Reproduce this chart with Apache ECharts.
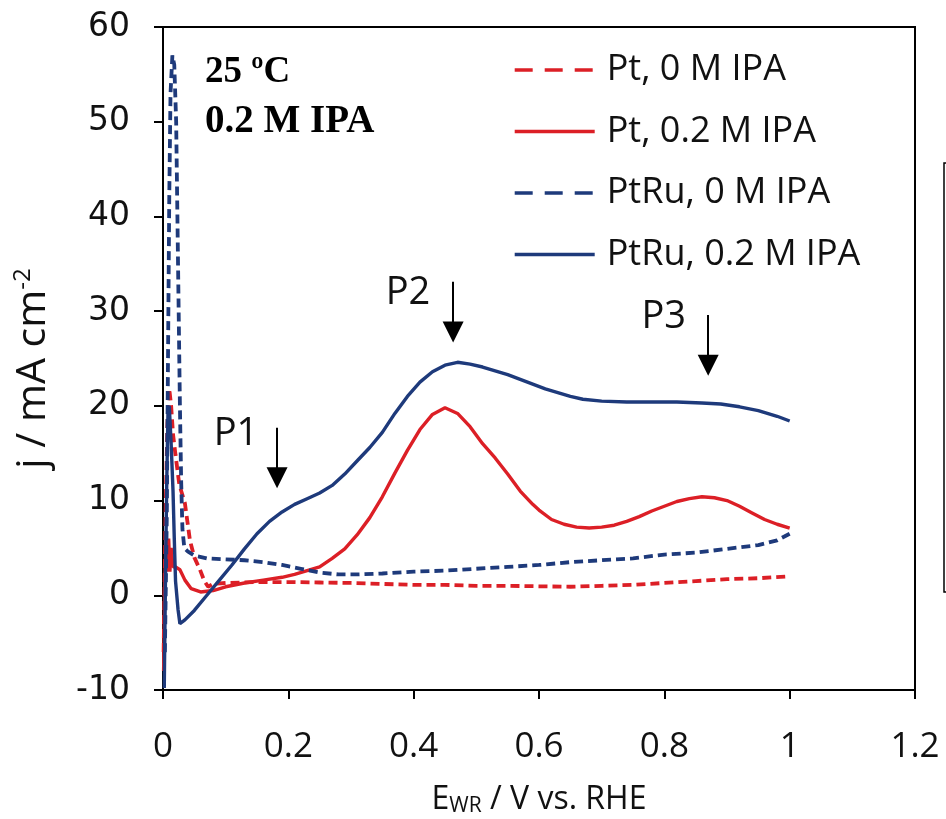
<!DOCTYPE html>
<html><head><meta charset="utf-8">
<script src="https://cdn.jsdelivr.net/npm/echarts/dist/echarts.min.js"></script>
<style>html,body{margin:0;padding:0;background:#fff}#c{width:946px;height:819px}</style>
</head><body><div id="c"></div>
<script>
// ---- data ----
const seriesNames = ['Pt, 0 M IPA', 'Pt, 0.2 M IPA', 'PtRu, 0 M IPA', 'PtRu, 0.2 M IPA'];

const ptNoIPA = [[0.001,-6],[0.004,8],[0.007,18],[0.010,21.8],[0.013,20],[0.016,17],[0.020,14.8],[0.026,11.7],
  [0.035,9.7],[0.043,5.8],[0.050,4.0],[0.059,2.7],[0.066,1.5],[0.072,0.9],[0.08,1.2],[0.10,1.3],[0.15,1.4],
  [0.20,1.4],[0.25,1.35],[0.30,1.3],[0.35,1.2],[0.40,1.1],[0.45,1.1],[0.50,1.0],[0.55,1.0],[0.60,0.95],
  [0.65,0.9],[0.70,1.0],[0.75,1.1],[0.80,1.3],[0.85,1.5],[0.90,1.7],[0.95,1.8],[1.0,2.0]];

const ptIPA = [[0.001,-8],[0.003,2],[0.005,6],[0.007,2.5],[0.009,6],[0.011,2.5],[0.013,5],[0.016,3],[0.020,3],
  [0.027,2.7],[0.035,1.6],[0.045,0.7],[0.060,0.35],[0.08,0.5],[0.10,0.9],[0.13,1.3],[0.16,1.6],[0.19,1.9],
  [0.21,2.2],[0.23,2.6],[0.25,3.0],[0.27,3.9],[0.29,4.9],[0.31,6.4],[0.33,8.2],[0.35,10.4],[0.37,12.9],
  [0.39,15.3],[0.41,17.5],[0.43,19.1],[0.45,19.8],[0.47,19.2],[0.49,17.8],[0.51,16.0],[0.53,14.5],[0.55,12.8],
  [0.57,11.0],[0.59,9.6],[0.60,9.0],[0.62,8.0],[0.64,7.5],[0.66,7.2],[0.68,7.1],[0.70,7.2],[0.72,7.4],
  [0.74,7.8],[0.76,8.3],[0.78,8.9],[0.80,9.4],[0.82,9.9],[0.84,10.2],[0.86,10.4],[0.88,10.3],[0.90,10.0],
  [0.92,9.4],[0.94,8.7],[0.96,8.0],[0.98,7.5],[1.0,7.1]];

const ptRuNoIPA = [[0.003,-6],[0.006,8],[0.008,25],[0.010,42],[0.012,53],[0.015,57],[0.018,56],[0.021,50],
  [0.023,40],[0.025,30],[0.027,20],[0.029,12],[0.031,7],[0.034,5],[0.04,4.6],[0.05,4.2],[0.07,3.9],[0.10,3.8],
  [0.13,3.7],[0.16,3.5],[0.19,3.2],[0.22,2.8],[0.25,2.4],[0.28,2.2],[0.31,2.2],[0.35,2.3],[0.40,2.5],
  [0.45,2.6],[0.50,2.8],[0.55,3.0],[0.60,3.2],[0.65,3.5],[0.70,3.7],[0.75,3.9],[0.80,4.3],[0.85,4.5],
  [0.90,4.9],[0.95,5.3],[0.98,5.8],[1.0,6.5]];

const ptRuIPA = [[0.002,-9.8],[0.004,2],[0.006,12],[0.008,19.5],[0.010,20],[0.013,16],[0.016,11],[0.018,6],
  [0.020,1.5],[0.024,-1.5],[0.027,-3.0],[0.035,-2.6],[0.05,-1.6],[0.07,0],[0.09,1.6],[0.11,3.2],[0.13,4.9],
  [0.15,6.5],[0.17,7.8],[0.19,8.8],[0.21,9.6],[0.23,10.2],[0.25,10.8],[0.27,11.6],[0.29,12.8],[0.31,14.2],
  [0.33,15.6],[0.35,17.2],[0.37,19.2],[0.39,21.0],[0.41,22.5],[0.43,23.6],[0.45,24.3],[0.47,24.6],[0.49,24.4],
  [0.51,24.1],[0.53,23.7],[0.55,23.3],[0.57,22.8],[0.59,22.3],[0.61,21.8],[0.63,21.4],[0.65,21.0],[0.67,20.7],
  [0.70,20.5],[0.74,20.4],[0.78,20.4],[0.82,20.4],[0.86,20.3],[0.89,20.2],[0.92,19.9],[0.95,19.5],
  [0.98,18.9],[1.0,18.4]];

const xAxisRange = [0, 1.2, 0.2];
const yAxisRange = [-10, 60, 10];

const peakNames = ['P1', 'P2', 'P3'];
const peakArrowX = [0.182, 0.463, 0.870];
const peakArrowTop = [17.7, 33.1, 29.6];
const peakArrowHead = [12.4, 27.8, 24.3];
const peakLabelX = [0.1165, 0.391, 0.799];
const peakLabelY = [17.0, 31.9, 29.4];

const conditionLines = ['25 ºC', '0.2 M IPA'];

// ---- styles ----
const RED = '#dc1f26', BLUE = '#1e3a7b';
const colors = [RED, RED, BLUE, BLUE];
const dashed = [true, false, true, false];
const seriesData = [ptNoIPA, ptIPA, ptRuNoIPA, ptRuIPA];

const chart = echarts.init(document.getElementById('c'), null, {renderer: 'canvas'});

const series = seriesNames.map((n, i) => ({
  name: n, type: 'line', data: seriesData[i], showSymbol: false, symbol: 'none',
  lineStyle: {color: colors[i], width: dashed[i] ? 3.8 : 3.4, type: dashed[i] ? [9, 5] : 'solid'},
  itemStyle: {color: colors[i]}, z: 2 + i
}));

series.push({
  type: 'line', data: [], silent: true,
  markLine: {
    silent: true, symbol: ['none', 'triangle'], symbolSize: 21,
    lineStyle: {color: '#000', width: 2, type: 'solid'}, label: {show: false},
    data: peakNames.map((p, i) => [{coord: [peakArrowX[i], peakArrowTop[i]]}, {coord: [peakArrowX[i], peakArrowHead[i]]}])
  }
});

const font = "'Open Sans', Lato, sans-serif";

chart.setOption({
  animation: false,
  backgroundColor: '#fff',
  grid: {left: 163, right: 31, top: 27, bottom: 129, show: true, borderColor: '#000', borderWidth: 2,
    outerBoundsMode: 'none', containLabel: false},
  legend: {
    show: true,
    data: seriesNames.map((n, i) => ({name: n,
      itemStyle: {opacity: 0, color: 'rgba(0,0,0,0)', borderWidth: 0},
      lineStyle: {color: colors[i], width: 3.4, type: dashed[i] ? [18, 12] : 'solid'}})),
    orient: 'vertical', left: 508, top: 45, itemWidth: 80, itemHeight: 4, itemGap: 21.5,
    textStyle: {fontFamily: font, fontSize: 36, color: '#111', lineHeight: 40, padding: [0, 0, 0, 7]},
    selectedMode: false
  },
  xAxis: {
    type: 'value', min: xAxisRange[0], max: xAxisRange[1], interval: xAxisRange[2],
    axisLine: {show: true, onZero: false, lineStyle: {color: '#000', width: 2}},
    axisTick: {show: true, inside: false, length: 9, lineStyle: {color: '#000', width: 2}},
    axisLabel: {show: true, margin: 40, fontFamily: font, fontSize: 35, color: '#111', showMinLabel: true, showMaxLabel: true},
    splitLine: {show: false},
    name: '{a|E}{sub|WR}{a| / V vs. RHE}', nameLocation: 'middle', nameGap: 92,
    nameTextStyle: {rich: {
      a: {fontFamily: font, fontSize: 32, color: '#111'},
      sub: {fontFamily: font, fontSize: 21, color: '#111', padding: [14, 0, 0, 0]}
    }}
  },
  yAxis: {
    type: 'value', min: yAxisRange[0], max: yAxisRange[1], interval: yAxisRange[2],
    axisLine: {show: true, onZero: false, lineStyle: {color: '#000', width: 2}},
    axisTick: {show: true, inside: false, length: 9, lineStyle: {color: '#000', width: 2}},
    axisLabel: {show: true, margin: 33, fontFamily: "'DejaVu Sans', sans-serif", fontSize: 33, color: '#111', showMinLabel: true, showMaxLabel: true},
    splitLine: {show: false},
    name: '{a|j / mA cm}{sup|-2}', nameLocation: 'middle', nameGap: 108, nameRotate: 90,
    nameTextStyle: {padding: [0, 20, 0, 0], rich: {
      a: {fontFamily: font, fontSize: 41, color: '#111'},
      sup: {fontFamily: font, fontSize: 24, color: '#111', padding: [0, 0, 20, 0]}
    }}
  },
  series: series
});

const peakTexts = peakNames.map((p, i) => {
  const pt = chart.convertToPixel({gridIndex: 0}, [peakLabelX[i], peakLabelY[i]]);
  return {type: 'text', x: pt[0], y: pt[1], z: 20,
    style: {text: p, fontFamily: font, fontSize: 38, fill: '#111', align: 'center', verticalAlign: 'middle'}};
});

chart.setOption({
  graphic: [
    {type: 'text', left: 205, top: 54, z: 20, style: {text: conditionLines[0], fontFamily: "'Liberation Serif', serif", fontWeight: 'bold', fontSize: 37, fill: '#000'}},
    {type: 'text', left: 205, top: 102, z: 20, style: {text: conditionLines[1], fontFamily: "'Liberation Serif', serif", fontWeight: 'bold', fontSize: 39, fill: '#000'}},
    {type: 'rect', z: 20, shape: {x: 944, y: 163, width: 20, height: 429}, style: {fill: 'none', stroke: '#000', lineWidth: 1.5}}
  ].concat(peakTexts)
});
</script></body></html>
